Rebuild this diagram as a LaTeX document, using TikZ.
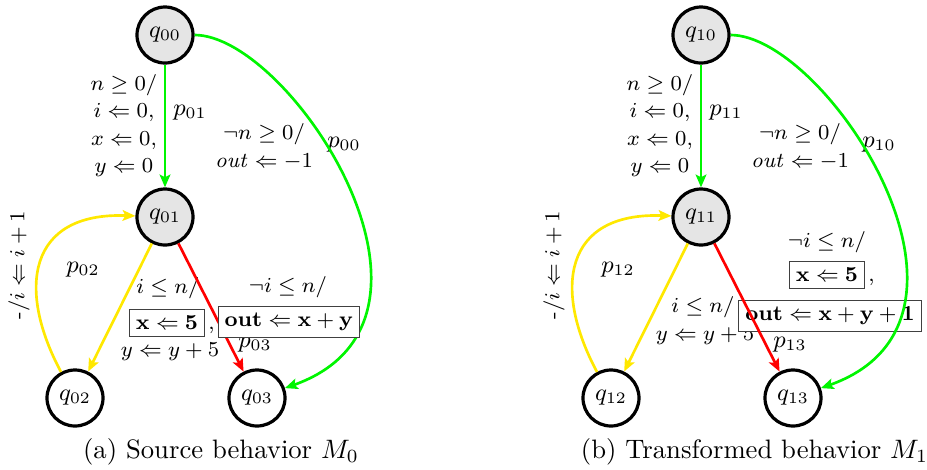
\documentclass[tikz,border=0pt]{standalone}
\usepackage{amsmath,amssymb}
\usetikzlibrary{arrows.meta}
\definecolor{ygold}{RGB}{255,232,0}
\definecolor{grn}{RGB}{0,245,0}
\begin{document}
\begin{tikzpicture}[x=0.375pt,y=0.375pt]
\tikzset{
 st/.style={circle, draw, line width=1.2pt, minimum size=21pt, inner sep=0pt, font=\fontsize{9}{11}\selectfont},
 init/.style={st, fill=gray!20},
 lbl/.style={font=\fontsize{8}{10.3}\selectfont, align=center, inner sep=1pt},
 plbl/.style={font=\fontsize{9}{11}\selectfont, inner sep=1pt},
 tr/.style={line width=1pt, -{Stealth[length=4.8pt,width=4pt,inset=1pt]}},
 bx/.style={draw=black!75, line width=0.45pt, inner sep=2.4pt, fill=white, font=\fontsize{8}{10}\selectfont},
 capt/.style={font=\fontsize{10}{12}\selectfont, inner sep=0pt}
}
\useasboundingbox (0,0) rectangle (927,-469);

% ---------- left panel ----------
\node[init] (q00) at (165,-35) {$q_{00}$};
\node[init] (q01) at (165,-217) {$q_{01}$};
\node[st] (q02) at (75,-398) {$q_{02}$};
\node[st] (q03) at (257,-398) {$q_{03}$};

\node[lbl] (l01) at (124,-125.5) {$n \geq 0/$\\$i \Leftarrow 0,$\\$x \Leftarrow 0,$\\$y \Leftarrow 0$};
\node[plbl] (p01) at (190,-113) {$p_{01}$};
\node[lbl] (l00) at (264,-146.5) {$\neg n \geq 0/$\\$\mathit{out} \Leftarrow -1$};
\node[plbl] (p00) at (344,-145) {$p_{00}$};
\node[lbl, rotate=90] (l22) at (19,-265) {-/$i \Leftarrow i+1$};
\node[plbl] (p02) at (83,-270) {$p_{02}$};
\node[lbl] (l02a) at (168,-288) {$i \leq n/$};
\node[bx] (bx1) at (167,-323) {$\mathbf{x} \Leftarrow \mathbf{5}$};
\node[lbl, anchor=base west, inner sep=0pt] (c1) at ([xshift=1pt]bx1.base east) {,};
\node[lbl] (l02b) at (170,-352) {$y \Leftarrow y+5$};
\node[lbl] (l03a) at (288,-287) {$\neg i \leq n/$};
\node[plbl] (p03) at (255,-345) {$p_{03}$};

\draw[tr, grn] (q00) -- (q01);
\draw[tr, grn] (q00) .. controls +(125,0) and +(220,78) .. (q03);
\draw[tr, ygold] (q01) -- (q02);
\draw[tr, ygold] (q02) .. controls +(-58,108) and +(-138,5) .. (q01);
\draw[tr, red] (q01) -- (q03);
\node[bx] (bx2) at (289,-322) {$\mathbf{out \Leftarrow x+y}$};

\node[capt] (cap0) at (221,-452) {(a) Source behavior $M_0$};

% ---------- right panel ----------
\node[init] (q10) at (701,-35) {$q_{10}$};
\node[init] (q11) at (701,-217) {$q_{11}$};
\node[st] (q12) at (611,-398) {$q_{12}$};
\node[st] (q13) at (793,-398) {$q_{13}$};

\node[lbl] (l11) at (660,-125.5) {$n \geq 0/$\\$i \Leftarrow 0,$\\$x \Leftarrow 0,$\\$y \Leftarrow 0$};
\node[plbl] (p11) at (726,-113) {$p_{11}$};
\node[lbl] (l10) at (800,-146.5) {$\neg n \geq 0/$\\$\mathit{out} \Leftarrow -1$};
\node[plbl] (p10) at (879,-145) {$p_{10}$};
\node[lbl, rotate=90] (l33) at (554,-265) {-/$i \Leftarrow i+1$};
\node[plbl] (p12) at (618,-270) {$p_{12}$};
\node[lbl] (l12a) at (703,-307) {$i \leq n/$};
\node[lbl] (l12b) at (705,-336) {$y \Leftarrow y+5$};
\node[lbl] (l13a) at (827,-242) {$\neg i \leq n/$};
\node[bx] (bx3) at (827,-275) {$\mathbf{x} \Leftarrow \mathbf{5}$};
\node[lbl, anchor=base west, inner sep=0pt] (c3) at ([xshift=1pt]bx3.base east) {,};
\node[bx] (bx4) at (830,-316) {$\mathbf{out \Leftarrow x+y+1}$};
\node[plbl] (p13) at (790,-345) {$p_{13}$};

\draw[tr, grn] (q10) -- (q11);
\draw[tr, grn] (q10) .. controls +(125,0) and +(220,78) .. (q13);
\draw[tr, ygold] (q11) -- (q12);
\draw[tr, ygold] (q12) .. controls +(-58,108) and +(-138,5) .. (q11);
\draw[tr, red] (q11) -- (q13);

\node[capt] (cap1) at (754.5,-452) {(b) Transformed behavior $M_1$};
\end{tikzpicture}
\end{document}
